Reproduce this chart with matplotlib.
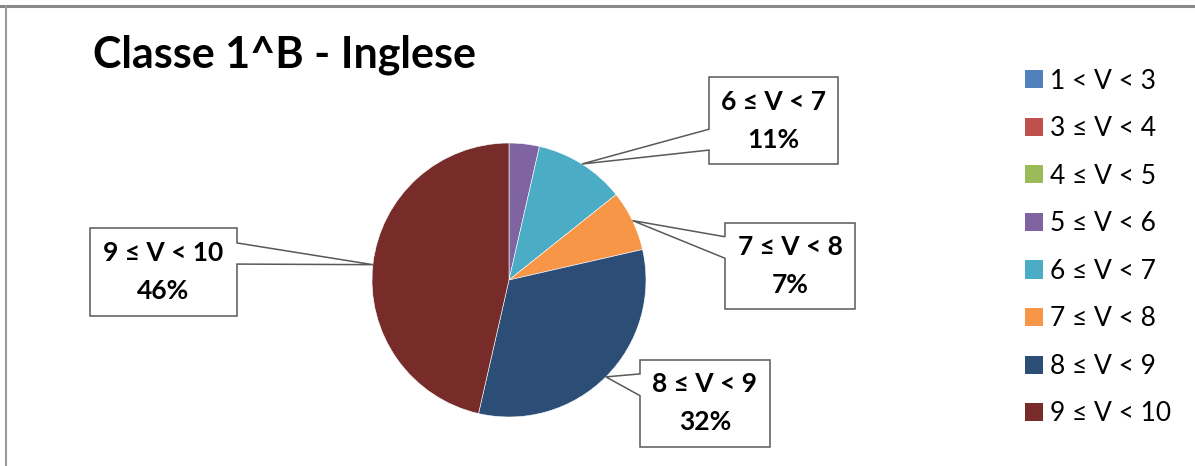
import matplotlib
matplotlib.use("Agg")
import matplotlib.pyplot as plt
from matplotlib.patches import Patch, Polygon
from matplotlib.lines import Line2D
import numpy as np

plt.rcParams['font.family'] = ['Lato', 'DejaVu Sans']

# ---- data ----
title = "Classe 1^B - Inglese"
categories = ["1 < V < 3", "3 ≤ V < 4", "4 ≤ V < 5", "5 ≤ V < 6",
              "6 ≤ V < 7", "7 ≤ V < 8", "8 ≤ V < 9", "9 ≤ V < 10"]
counts = [0, 0, 0, 1, 3, 2, 9, 13]
colors = ["#4F81BD", "#C0504D", "#9BBB59", "#8064A2",
          "#4BACC6", "#F79646", "#2C4D75", "#772C2A"]
labelled = ["6 ≤ V < 7", "7 ≤ V < 8", "8 ≤ V < 9", "9 ≤ V < 10"]

W, H = 1195, 466
fig = plt.figure(figsize=(W / 100, H / 100), dpi=100)
ax = fig.add_axes([0, 0, 1, 1])

# frame lines of the chart area
ax.add_line(Line2D([0, W], [H - 6, H - 6], color="#888888", lw=2.2))
ax.add_line(Line2D([6, 6], [0, H - 6], color="#999999", lw=1.5))

cx, cy, R = 509, H - 280, 137
nz = [i for i, c in enumerate(counts) if c > 0]
wedges, _ = ax.pie([counts[i] for i in nz], colors=[colors[i] for i in nz],
                   startangle=90, counterclock=False, center=(cx, cy), radius=R,
                   wedgeprops=dict(edgecolor="white", linewidth=0.4))
ax.set_xlim(0, W)
ax.set_ylim(0, H)
ax.set_aspect('equal')
ax.axis('off')

ax.text(93, H - 55, title, fontsize=31, fontweight='bold', va='center', ha='left',
        color='black')

total = sum(counts)
layout = {
    "6 ≤ V < 7": dict(box=(709, 77, 838, 164), side='left', att=(0.60, 0.84)),
    "7 ≤ V < 8": dict(box=(725, 223, 855, 309), side='left', att=(0.16, 0.41)),
    "8 ≤ V < 9": dict(box=(640, 360, 770, 447), side='left', att=(0.16, 0.41)),
    "9 ≤ V < 10": dict(box=(90, 228, 237, 316), side='right', att=(0.17, 0.41)),
}

cum = 0
for cat, c in zip(categories, counts):
    start = cum
    cum += c
    if c == 0 or cat not in layout:
        continue
    mid = (start + c / 2) / total * 2 * np.pi
    tx = cx + R * np.sin(mid)
    ty = cy + R * np.cos(mid)
    L = layout[cat]
    x0, yt, x1, yb = L['box']
    yt, yb = H - yt, H - yb
    h = yt - yb
    a1 = yt - L['att'][0] * h
    a2 = yt - L['att'][1] * h
    if L['side'] == 'left':
        pts = [(x0, yt), (x1, yt), (x1, yb), (x0, yb), (x0, a2), (tx, ty), (x0, a1)]
    else:
        pts = [(x0, yt), (x1, yt), (x1, a1), (tx, ty), (x1, a2), (x1, yb), (x0, yb)]
    ax.add_patch(Polygon(pts, closed=True, facecolor='white', edgecolor='#595959',
                         linewidth=1.1, zorder=5))
    pct = round(c / total * 100)
    xc = (x0 + x1) / 2
    ym = (yt + yb) / 2
    ax.text(xc, ym + 19, cat, ha='center', va='center', fontsize=19,
            fontweight='bold', zorder=6)
    ax.text(xc, ym - 19, f"{pct}%", ha='center', va='center', fontsize=19,
            fontweight='bold', zorder=6)

handles = [Patch(facecolor=col, edgecolor='none') for col in colors]
leg = ax.legend(handles, categories, loc='upper left',
                bbox_to_anchor=(1014 / W, (H - 58) / H), frameon=False,
                fontsize=19, handlelength=0.68, handleheight=0.68, handletextpad=0.3,
                labelspacing=0.855, borderaxespad=0)

fig.savefig("out.png", dpi=100)
